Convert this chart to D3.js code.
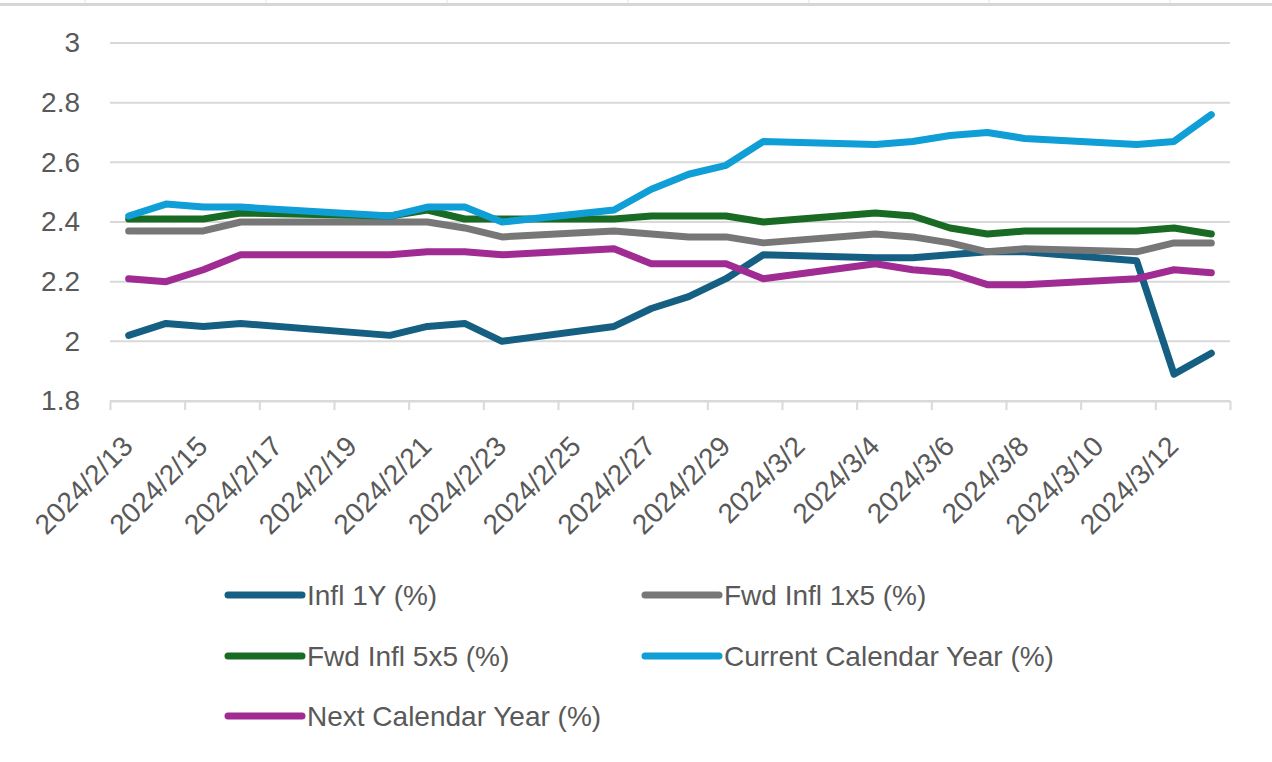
<!DOCTYPE html>
<html>
<head>
<meta charset="utf-8">
<script src="https://cdn.jsdelivr.net/npm/d3@7"></script>
<style>
  html, body { margin: 0; padding: 0; background: #fff; }
  svg { display: block; font-family: "Liberation Sans", Arial, sans-serif; }
</style>
</head>
<body>
<div id="chart"></div>
<script>
// Trading days shown on the chart (weekends and 2/19 are absent)
const dates = [
  "2024-02-13", "2024-02-14", "2024-02-15", "2024-02-16", "2024-02-20",
  "2024-02-21", "2024-02-22", "2024-02-23", "2024-02-26", "2024-02-27",
  "2024-02-28", "2024-02-29", "2024-03-01", "2024-03-04", "2024-03-05",
  "2024-03-06", "2024-03-07", "2024-03-08", "2024-03-11", "2024-03-12",
  "2024-03-13"
];

const infl1Y   = [2.02, 2.06, 2.05, 2.06, 2.02, 2.05, 2.06, 2.00, 2.05, 2.11, 2.15, 2.21, 2.29, 2.28, 2.28, 2.29, 2.30, 2.30, 2.27, 1.89, 1.96];
const fwd1x5   = [2.37, 2.37, 2.37, 2.40, 2.40, 2.40, 2.38, 2.35, 2.37, 2.36, 2.35, 2.35, 2.33, 2.36, 2.35, 2.33, 2.30, 2.31, 2.30, 2.33, 2.33];
const fwd5x5   = [2.41, 2.41, 2.41, 2.43, 2.42, 2.44, 2.41, 2.41, 2.41, 2.42, 2.42, 2.42, 2.40, 2.43, 2.42, 2.38, 2.36, 2.37, 2.37, 2.38, 2.36];
const curYear  = [2.42, 2.46, 2.45, 2.45, 2.42, 2.45, 2.45, 2.40, 2.44, 2.51, 2.56, 2.59, 2.67, 2.66, 2.67, 2.69, 2.70, 2.68, 2.66, 2.67, 2.76];
const nextYear = [2.21, 2.20, 2.24, 2.29, 2.29, 2.30, 2.30, 2.29, 2.31, 2.26, 2.26, 2.26, 2.21, 2.26, 2.24, 2.23, 2.19, 2.19, 2.21, 2.24, 2.23];

const seriesNames = ["Infl 1Y (%)", "Fwd Infl 1x5 (%)", "Fwd Infl 5x5 (%)", "Current Calendar Year (%)", "Next Calendar Year (%)"];
const seriesValues = [infl1Y, fwd1x5, fwd5x5, curYear, nextYear];
const seriesColors = ["#156082", "#777777", "#196b24", "#0f9ed5", "#a02b93"];

const yTicks = [1.8, 2, 2.2, 2.4, 2.6, 2.8, 3];
const xTickLabels = [
  "2024/2/13", "2024/2/15", "2024/2/17", "2024/2/19", "2024/2/21", "2024/2/23",
  "2024/2/25", "2024/2/27", "2024/2/29", "2024/3/2", "2024/3/4", "2024/3/6",
  "2024/3/8", "2024/3/10", "2024/3/12"
];

const W = 1272, H = 762;
const plot = { left: 110, right: 1230, top: 43, bottom: 401 };
const textColor = "#595959";
const gridColor = "#d9d9d9";
const fontSize = 28;

const parse = d3.utcParse("%Y-%m-%d");
const parseLabel = d3.utcParse("%Y/%m/%d");
const halfDay = 12 * 3600 * 1000;

const svg = d3.select("#chart").append("svg")
  .attr("width", W)
  .attr("height", H);

// spreadsheet header strip at the very top
svg.append("rect")
  .attr("x", 0).attr("y", 3)
  .attr("width", W).attr("height", 3)
  .attr("fill", "#d6d6d6");
svg.selectAll(".colsep")
  .data([85, 266, 447, 628, 809, 989, 1170])
  .enter().append("line")
  .attr("x1", d => d).attr("x2", d => d)
  .attr("y1", 0).attr("y2", 3)
  .attr("stroke", "#e3e3e3")
  .attr("stroke-width", 1);

// scales: each day is one bin, points sit at the middle of their day
const x = d3.scaleUtc()
  .domain([parse(dates[0]), d3.utcDay.offset(parse(dates[dates.length - 1]), 1)])
  .range([plot.left, plot.right]);

const y = d3.scaleLinear()
  .domain([1.8, 3])
  .range([plot.bottom, plot.top]);

const xMid = d => x(new Date(d.getTime() + halfDay));

// horizontal gridlines
svg.append("g")
  .selectAll("line")
  .data(yTicks)
  .enter().append("line")
  .attr("x1", plot.left)
  .attr("x2", plot.right)
  .attr("y1", d => y(d))
  .attr("y2", d => y(d))
  .attr("stroke", gridColor)
  .attr("stroke-width", 2);

// y axis labels
const yAxis = d3.axisLeft(y)
  .tickValues(yTicks)
  .tickSize(0)
  .tickPadding(30)
  .tickFormat(d3.format("~g"));

const yg = svg.append("g")
  .attr("transform", `translate(${plot.left},0)`)
  .call(yAxis);
yg.select(".domain").remove();
yg.selectAll("text")
  .style("font-size", fontSize + "px")
  .style("fill", textColor)
  .style("font-family", "Liberation Sans, Arial, sans-serif");

// x axis: tick marks every two days at bin edges
const xTickDates = d3.range(0, 31, 2).map(i => d3.utcDay.offset(parse(dates[0]), i));
const xAxis = d3.axisBottom(x)
  .tickValues(xTickDates)
  .tickSize(9)
  .tickSizeOuter(0)
  .tickFormat("");

const xg = svg.append("g")
  .attr("transform", `translate(0,${plot.bottom})`)
  .call(xAxis);
xg.select(".domain").attr("stroke", gridColor).attr("stroke-width", 2);
xg.selectAll(".tick line").attr("stroke", gridColor).attr("stroke-width", 2);

// rotated date labels
svg.append("g")
  .selectAll("text")
  .data(xTickLabels)
  .enter().append("text")
  .attr("transform", d => `translate(${xMid(parseLabel(d)) - 1},441) rotate(-45)`)
  .attr("text-anchor", "end")
  .attr("dy", "0.35em")
  .style("font-size", fontSize + "px")
  .style("fill", textColor)
  .text(d => d);

// lines
const line = d3.line()
  .x((d, i) => xMid(parse(dates[i])))
  .y(d => y(d));

svg.append("g")
  .selectAll("path")
  .data(seriesValues)
  .enter().append("path")
  .attr("d", d => line(d))
  .attr("fill", "none")
  .attr("stroke", (d, i) => seriesColors[i])
  .attr("stroke-width", 7)
  .attr("stroke-linecap", "round")
  .attr("stroke-linejoin", "round");

// legend, two columns
const legendCols = [228, 645];
const legendRows = [595, 656, 716];

const legend = svg.append("g")
  .selectAll("g")
  .data(seriesNames)
  .enter().append("g")
  .attr("transform", (d, i) => `translate(${legendCols[i % 2]},${legendRows[Math.floor(i / 2)]})`);

legend.append("line")
  .attr("x1", 0).attr("x2", 74)
  .attr("y1", 0).attr("y2", 0)
  .attr("stroke", (d, i) => seriesColors[i])
  .attr("stroke-width", 7)
  .attr("stroke-linecap", "round");

legend.append("text")
  .attr("x", 79)
  .attr("dy", "0.35em")
  .style("font-size", fontSize + "px")
  .style("fill", textColor)
  .text(d => d);
</script>
</body>
</html>
